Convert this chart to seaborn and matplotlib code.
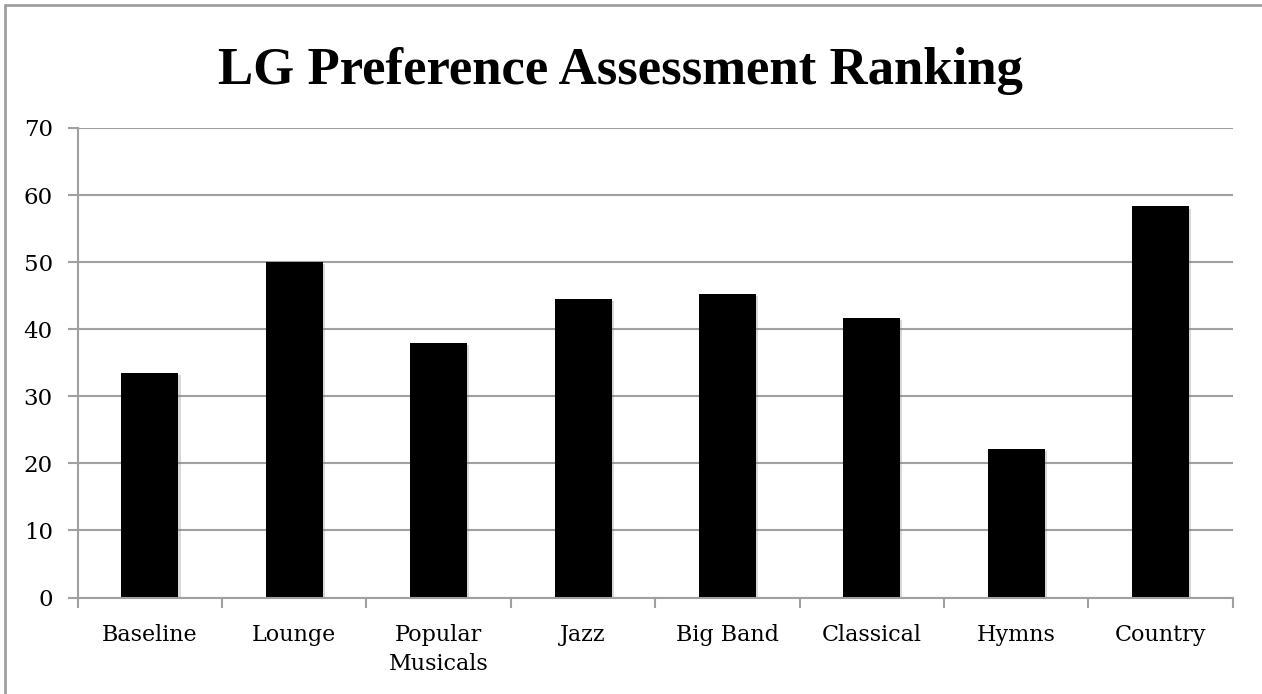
import matplotlib
matplotlib.use("Agg")
import matplotlib.pyplot as plt
import matplotlib.patheffects as pe
from matplotlib.lines import Line2D
import seaborn as sns
import pandas as pd

categories = ["Baseline", "Lounge", "Popular\nMusicals", "Jazz", "Big Band",
              "Classical", "Hymns", "Country"]
scores = [33.5, 50.0, 38.0, 44.5, 45.3, 41.7, 22.1, 58.3]
y_ticks = [0, 10, 20, 30, 40, 50, 60, 70]

df = pd.DataFrame({"genre": categories, "score": scores})

sns.set_theme(style="white")
plt.rcParams["font.family"] = ["DejaVu Serif"]
plt.rcParams["text.color"] = "black"

fig = plt.figure(figsize=(12.62, 6.94), dpi=100)
ax = fig.add_axes([0.0616, 0.139, 0.9152, 0.6766])

grid_color = "#a0a0a0"
sns.barplot(data=df, x="genre", y="score", color="black", width=0.395,
            saturation=1, linewidth=0, edgecolor="none", ax=ax, zorder=3)
for bar in ax.patches:
    bar.set_path_effects([pe.SimplePatchShadow(offset=(1.5, -1.5),
                                               shadow_rgbFace="#808080",
                                               alpha=0.3),
                          pe.Normal()])

ax.set_ylim(0, 70)
ax.set_xlim(-0.5, len(categories) - 0.5)
ax.set_yticks(y_ticks)
ax.yaxis.grid(True, color=grid_color, linewidth=1.5)
ax.set_axisbelow(True)
ax.set_xlabel("")
ax.set_ylabel("")

for side in ["top", "right"]:
    ax.spines[side].set_visible(False)
for side in ["left", "bottom"]:
    ax.spines[side].set_color(grid_color)
    ax.spines[side].set_linewidth(1.5)
    ax.spines[side].set_zorder(4)

ax.tick_params(axis="y", which="major", length=7, width=1.5, color=grid_color,
               labelsize=16.5, pad=11, left=True, labelcolor="black")
ax.tick_params(axis="x", which="major", length=0, labelsize=16, pad=19,
               labelcolor="black")
for lbl in ax.get_xticklabels():
    lbl.set_linespacing(1.4)
ax.set_xticks([i - 0.5 for i in range(len(categories) + 1)], minor=True)
ax.tick_params(axis="x", which="minor", length=7, width=1.5, color=grid_color,
               bottom=True)

fig.text(0.492, 0.897, "LG Preference Assessment Ranking", ha="center",
         va="center", fontsize=38, fontweight="bold", color="black",
         family=["Liberation Serif"])

# frame lines along the top and left edges of the chart area
fig.add_artist(Line2D([0.004, 0.004], [0, 0.9928], transform=fig.transFigure,
                      color="#a0a0a0", linewidth=2))
fig.add_artist(Line2D([0.004, 1], [0.9928, 0.9928], transform=fig.transFigure,
                      color="#a0a0a0", linewidth=2))

fig.savefig("out.png", dpi=100)
